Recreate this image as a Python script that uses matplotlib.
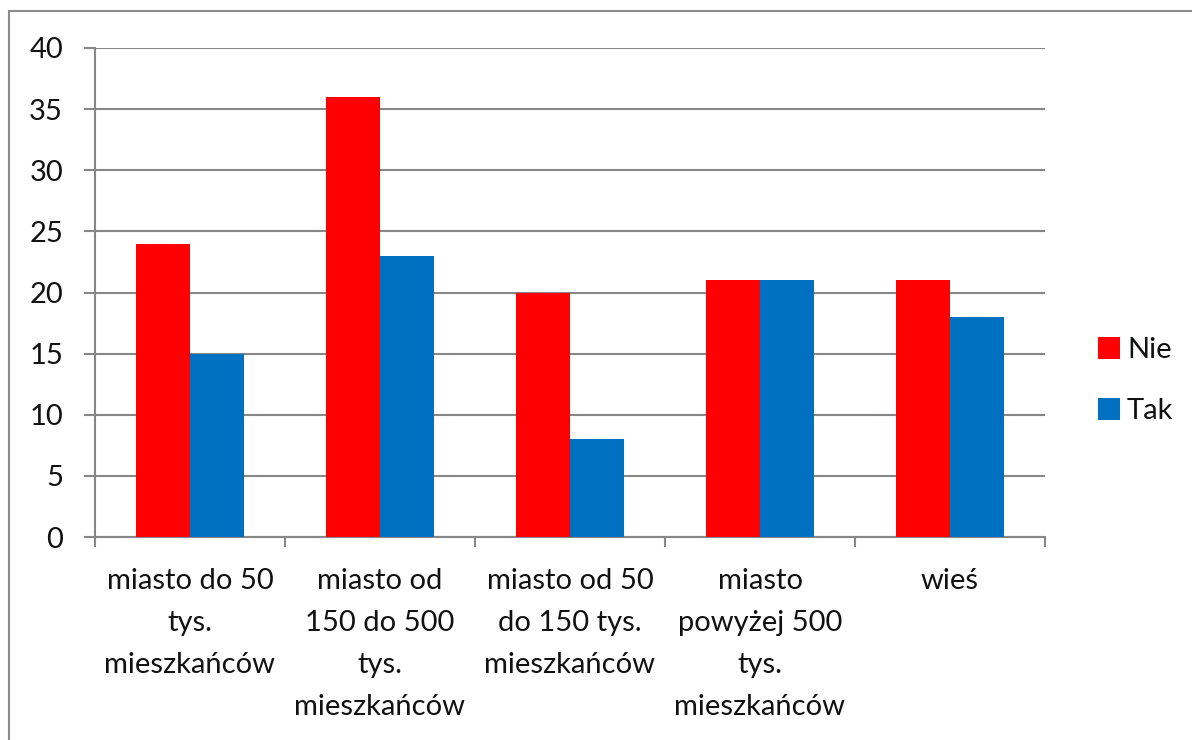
import matplotlib.pyplot as plt
from matplotlib.patches import Rectangle
import numpy as np

plt.rcParams['font.family'] = ['Lato', 'DejaVu Sans']

categories = ['miasto do 50\ntys.\nmieszkańców',
              'miasto od\n150 do 500\ntys.\nmieszkańców',
              'miasto od 50\ndo 150 tys.\nmieszkańców',
              'miasto\npowyżej 500\ntys.\nmieszkańców',
              'wieś']
nie = [24, 36, 20, 21, 21]
tak = [15, 23, 8, 21, 18]
series_names = ['Nie', 'Tak']
colors = ['#FF0000', '#0070C0']
y_ticks = [0, 5, 10, 15, 20, 25, 30, 35, 40]

fig = plt.figure(figsize=(11.92, 7.40), dpi=100)
ax = fig.add_axes([95/1192, 1 - 537/740, 950/1192, 489/740])

x = np.arange(len(categories))
w = 1 / 3.5
ax.bar(x - w/2, nie, width=w, color=colors[0], label=series_names[0], zorder=3)
ax.bar(x + w/2, tak, width=w, color=colors[1], label=series_names[1], zorder=3)

grid_color = '#878787'
ax.set_xlim(-0.5, len(categories) - 0.5)
ax.set_ylim(0, 40)
ax.set_yticks(y_ticks)
ax.yaxis.grid(True, color=grid_color, linewidth=1.5, zorder=0)

# category labels at centres, tick marks at boundaries
ax.set_xticks(x)
ax.set_xticklabels(categories, fontsize=21, linespacing=1.77, va='top')
ax.set_xticks(np.arange(-0.5, len(categories)), minor=True)
ax.tick_params(axis='x', which='major', length=0, pad=22, colors='#111111')
ax.tick_params(axis='x', which='minor', length=7, width=1.5, color=grid_color, direction='out')
ax.tick_params(axis='y', length=8, width=1.5, color=grid_color, labelsize=21,
               pad=15, labelcolor='#111111')

for s in ['top', 'right']:
    ax.spines[s].set_visible(False)
for s in ['left', 'bottom']:
    ax.spines[s].set_color(grid_color)
    ax.spines[s].set_linewidth(1.5)

leg = ax.legend(loc='center left', bbox_to_anchor=(1.028, 0.32), frameon=False,
                fontsize=21, handlelength=0.75, handleheight=0.75,
                handletextpad=0.25, labelspacing=1.2)
for t in leg.get_texts():
    t.set_color('#111111')

# outer chart border
fig.add_artist(Rectangle((9/1192, -0.1), 1.2, 1.1 - 11/740,
                         transform=fig.transFigure, fill=False,
                         edgecolor='#8c8c8c', linewidth=1.5))

plt.savefig('out.png', dpi=100)
